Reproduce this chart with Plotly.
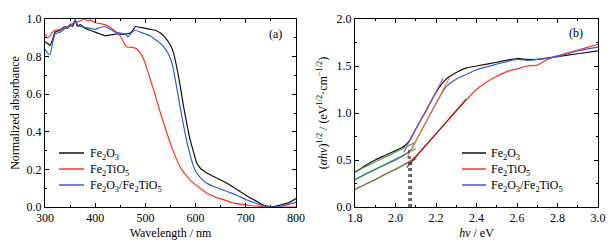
import plotly.graph_objects as go

# ---------------- Panel (a): normalized absorbance ----------------
wl_fe2o3 = [300, 305, 310, 315, 320, 330, 340, 345, 350, 355, 360, 365, 370, 380, 390, 400, 410, 420, 430, 440, 450, 460, 470, 475, 480, 490, 500, 510, 520, 530, 540, 550, 556, 562, 569, 575, 582, 588, 595, 602, 610, 620, 630, 645, 660, 675, 690, 705, 715, 725, 735, 745, 750, 760, 770, 785, 800]
abs_fe2o3 = [0.88, 0.87, 0.86, 0.89, 0.93, 0.94, 0.96, 0.95, 0.97, 0.96, 0.995, 0.96, 0.97, 0.95, 0.94, 0.93, 0.92, 0.91, 0.915, 0.92, 0.92, 0.92, 0.925, 0.94, 0.96, 0.955, 0.95, 0.945, 0.94, 0.925, 0.90, 0.86, 0.82, 0.75, 0.65, 0.55, 0.45, 0.37, 0.30, 0.235, 0.205, 0.185, 0.17, 0.15, 0.13, 0.105, 0.08, 0.055, 0.04, 0.025, 0.01, 0.003, 0.0, 0.005, 0.012, 0.022, 0.045]

wl_fe2tio5 = [300, 305, 310, 315, 320, 330, 340, 350, 360, 370, 380, 385, 390, 400, 410, 420, 430, 440, 450, 455, 460, 465, 470, 480, 490, 496, 505, 512, 519, 530, 542, 555, 572, 590, 609, 625, 642, 660, 675, 690, 710, 730, 740, 760, 780, 800]
abs_fe2tio5 = [0.92, 0.90, 0.91, 0.93, 0.94, 0.945, 0.95, 0.97, 0.98, 0.99, 1.0, 0.99, 0.995, 0.98, 0.975, 0.97, 0.955, 0.935, 0.91, 0.885, 0.86, 0.85, 0.85, 0.845, 0.82, 0.79, 0.72, 0.66, 0.60, 0.50, 0.40, 0.30, 0.20, 0.14, 0.10, 0.07, 0.05, 0.035, 0.022, 0.015, 0.008, 0.003, 0.0, 0.0, 0.0, 0.0]

wl_hetero = [300, 305, 310, 315, 320, 330, 340, 350, 355, 360, 365, 370, 380, 390, 400, 410, 420, 430, 440, 450, 460, 465, 470, 480, 490, 500, 510, 520, 530, 540, 550, 556, 562, 570, 577, 585, 593, 600, 610, 620, 635, 650, 665, 680, 700, 715, 725, 740, 750, 760, 780, 800]
abs_hetero = [0.84, 0.82, 0.81, 0.87, 0.92, 0.93, 0.95, 0.96, 0.97, 0.995, 0.97, 0.96, 0.955, 0.95, 0.945, 0.955, 0.96, 0.945, 0.93, 0.925, 0.92, 0.905, 0.92, 0.94, 0.93, 0.92, 0.91, 0.89, 0.87, 0.84, 0.79, 0.73, 0.64, 0.52, 0.42, 0.32, 0.24, 0.19, 0.155, 0.13, 0.11, 0.095, 0.08, 0.065, 0.04, 0.025, 0.015, 0.004, 0.0, 0.0, 0.01, 0.025]

# ---------------- Panel (b): Tauc plot ----------------
ev_fe2o3 = [1.8, 1.85, 1.9, 1.95, 2.0, 2.03, 2.05, 2.07, 2.1, 2.15, 2.2, 2.25, 2.3, 2.35, 2.4, 2.5, 2.6, 2.65, 2.7, 2.8, 2.9, 3.0]
tauc_fe2o3 = [0.37, 0.44, 0.50, 0.55, 0.60, 0.63, 0.66, 0.71, 0.83, 1.02, 1.22, 1.36, 1.43, 1.48, 1.50, 1.54, 1.58, 1.57, 1.57, 1.60, 1.63, 1.66]

ev_fe2tio5 = [1.8, 1.85, 1.9, 1.95, 2.0, 2.05, 2.08, 2.1, 2.15, 2.2, 2.25, 2.3, 2.35, 2.4, 2.45, 2.5, 2.55, 2.6, 2.65, 2.7, 2.75, 2.8, 2.9, 3.0]
tauc_fe2tio5 = [0.19, 0.24, 0.29, 0.35, 0.40, 0.46, 0.50, 0.54, 0.66, 0.78, 0.90, 1.02, 1.14, 1.25, 1.33, 1.39, 1.44, 1.47, 1.50, 1.51, 1.57, 1.61, 1.67, 1.73]

ev_hetero = [1.8, 1.85, 1.9, 1.95, 2.0, 2.05, 2.08, 2.1, 2.15, 2.2, 2.25, 2.3, 2.35, 2.4, 2.5, 2.6, 2.65, 2.7, 2.8, 2.9, 3.0]
tauc_hetero = [0.29, 0.35, 0.40, 0.45, 0.50, 0.56, 0.62, 0.70, 0.90, 1.10, 1.28, 1.36, 1.41, 1.46, 1.52, 1.57, 1.56, 1.57, 1.60, 1.66, 1.70]

# Tangent / baseline fit lines (x pairs, y pairs)
base_fe2o3_x = [1.8, 2.1]
base_fe2o3_y = [0.375, 0.69]
base_hetero_x = [1.8, 2.1]
base_hetero_y = [0.29, 0.62]
base_fe2tio5_x = [1.8, 2.1]
base_fe2tio5_y = [0.185, 0.51]
tan_fe2o3_x = [2.04, 2.235]
tan_fe2o3_y = [0.58, 1.37]
tan_hetero_x = [2.055, 2.265]
tan_hetero_y = [0.52, 1.37]
tan_fe2tio5_x = [2.055, 2.35]
tan_fe2tio5_y = [0.42, 1.15]
drop_x = [2.066, 2.072, 2.078]
drop_top = [0.62, 0.56, 0.50]

names = ["Fe<sub>2</sub>O<sub>3</sub>", "Fe<sub>2</sub>TiO<sub>5</sub>",
         "Fe<sub>2</sub>O<sub>3</sub>/Fe<sub>2</sub>TiO<sub>5</sub>"]
colors = ["#111111", "#ff3322", "#2f5fd6"]

FONT = "Liberation Serif"
fig = go.Figure()

for xs, ys, n, c in zip([wl_fe2o3, wl_fe2tio5, wl_hetero],
                        [abs_fe2o3, abs_fe2tio5, abs_hetero], names, colors):
    fig.add_trace(go.Scatter(x=xs, y=ys, mode="lines", name=n, showlegend=False,
                             line=dict(color=c, width=1.2, shape="spline", smoothing=0.4),
                             xaxis="x", yaxis="y"))

for xs, ys, n, c in zip([ev_fe2o3, ev_fe2tio5, ev_hetero],
                        [tauc_fe2o3, tauc_fe2tio5, tauc_hetero], names, colors):
    fig.add_trace(go.Scatter(x=xs, y=ys, mode="lines", name=n, showlegend=False,
                             line=dict(color=c, width=1.2, shape="spline", smoothing=0.6),
                             xaxis="x2", yaxis="y2"))

for xs, ys, c in [(base_fe2o3_x, base_fe2o3_y, "#3c9a46"),
                  (base_hetero_x, base_hetero_y, "#3c9a46"),
                  (base_fe2tio5_x, base_fe2tio5_y, "#3c9a46"),
                  (tan_fe2o3_x, tan_fe2o3_y, "#a35ac8"),
                  (tan_hetero_x, tan_hetero_y, "#ff8a1e"),
                  (tan_fe2tio5_x, tan_fe2tio5_y, "#8e1c1c")]:
    fig.add_trace(go.Scatter(x=xs, y=ys, mode="lines", showlegend=False,
                             line=dict(color=c, width=1.1),
                             xaxis="x2", yaxis="y2"))

for dx, dt in zip(drop_x, drop_top):
    fig.add_trace(go.Scatter(x=[dx, dx], y=[0, dt], mode="lines", showlegend=False,
                             line=dict(color="#222222", width=1, dash="dot"),
                             xaxis="x2", yaxis="y2"))

W, H = 615, 247
OFF = 8  # page body margin in the browser
def px(x):
    return (x - OFF) / W
def py(y):
    return 1 - (y - OFF) / H

axis_common = dict(showline=True, linecolor="black", linewidth=1, mirror="allticks",
                   ticks="inside", ticklen=4, tickwidth=1, tickcolor="black",
                   showgrid=False, zeroline=False, automargin=False,
                   tickfont=dict(family=FONT, size=12, color="black"),
                   title_font=dict(family=FONT, size=12, color="black"))

# manual legends (lines as shapes + text annotations)
shapes = []
annotations = []
leg_rows = [153, 169, 185]
for (lx0, lx1, tx) in [(59, 84, 88), (462, 486, 489)]:
    for n, c, yy in zip(names, colors, leg_rows):
        shapes.append(dict(type="line", xref="paper", yref="paper",
                           x0=px(lx0), x1=px(lx1), y0=py(yy), y1=py(yy),
                           line=dict(color=c, width=1.5)))
        annotations.append(dict(text=n, x=px(tx), y=py(yy + 1), xref="paper", yref="paper",
                                xanchor="left", yanchor="middle", showarrow=False,
                                font=dict(family=FONT, size=12, color="black")))

annotations += [
    dict(text="(a)", x=px(275), y=py(34), xref="paper", yref="paper",
         xanchor="center", yanchor="middle",
         showarrow=False, font=dict(family=FONT, size=12)),
    dict(text="(b)", x=px(576), y=py(33), xref="paper", yref="paper",
         xanchor="center", yanchor="middle",
         showarrow=False, font=dict(family=FONT, size=12)),
]

fig.update_layout(
    width=W, height=H,
    margin=dict(l=0, r=0, t=0, b=0, autoexpand=False),
    paper_bgcolor="white", plot_bgcolor="white",
    font=dict(family=FONT, size=12, color="black"),
    showlegend=False,
    xaxis=dict(domain=[px(45), px(296)], range=[300, 800], dtick=100,
               minor=dict(dtick=50, ticks="inside", ticklen=2, tickcolor="black"),
               title=dict(text="Wavelength / nm", standoff=4), anchor="y", **axis_common),
    yaxis=dict(domain=[py(207), py(19)], range=[0, 1.0], dtick=0.2, tickformat=".1f",
               minor=dict(dtick=0.1, ticks="inside", ticklen=2, tickcolor="black"),
               title=dict(text="Normalized absorbance", standoff=6), anchor="x", **axis_common),
    xaxis2=dict(domain=[px(355), px(598)], range=[1.8, 3.0], dtick=0.2, tickformat=".1f",
                minor=dict(dtick=0.1, ticks="inside", ticklen=2, tickcolor="black"),
                title=dict(text="<i>hν</i> / eV", standoff=4), anchor="y2", **axis_common),
    yaxis2=dict(domain=[py(207), py(19)], range=[0, 2.0], dtick=0.5, tickformat=".1f",
                minor=dict(dtick=0.25, ticks="inside", ticklen=2, tickcolor="black"),
                title=dict(text="(<i>αhν</i>)<sup>1/2</sup> / (eV<sup>1/2</sup>·cm<sup>−1/2</sup>)",
                           standoff=6), anchor="x2", **axis_common),
    shapes=shapes,
    annotations=annotations,
)

fig.write_html("out.html")
